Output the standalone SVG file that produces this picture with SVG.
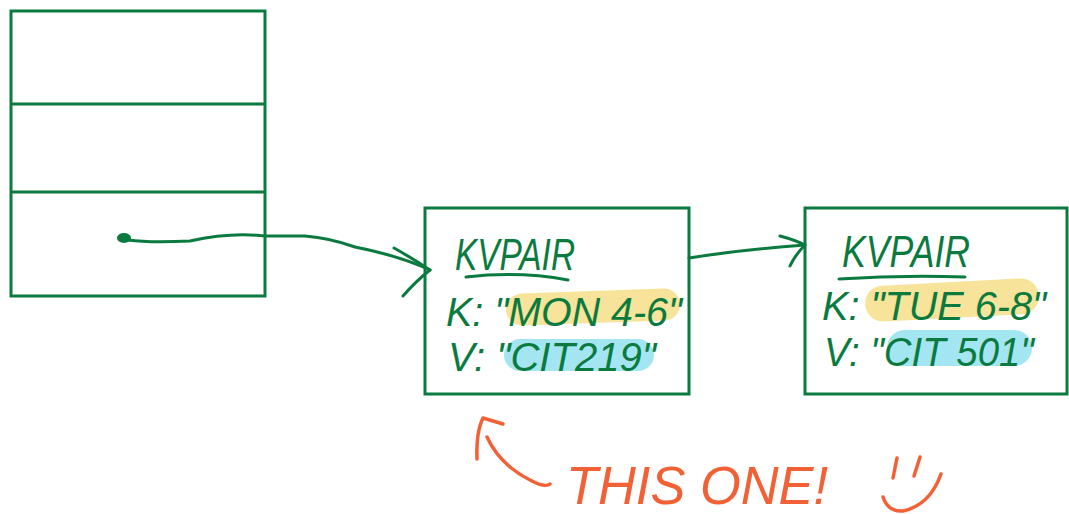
<svg xmlns="http://www.w3.org/2000/svg" width="1069" height="514" viewBox="0 0 1069 514">
<style>
.box{fill:none;stroke:#0b7a3e;stroke-width:3}
.ink{fill:none;stroke:#0b7a3e;stroke-width:3;stroke-linecap:round;stroke-linejoin:round}
.or{fill:none;stroke:#f26135;stroke-width:3.5;stroke-linecap:round;stroke-linejoin:round}
.t{font-family:"Liberation Sans",Arial,sans-serif;font-style:italic;fill:#0b7a3e}
.to{font-family:"Liberation Sans",Arial,sans-serif;font-style:italic;fill:#f26135}
.yl{fill:#f7e294;opacity:0.95}
.cy{fill:#a3e6f2}
</style>
<rect width="1069" height="514" fill="#ffffff"/>
<g id="table">
<rect class="box" x="11" y="11" width="254" height="285"/>
<line class="box" x1="11" y1="104" x2="265" y2="104"/>
<line class="box" x1="11" y1="192" x2="265" y2="192"/>
</g>
<g id="kvpair1">
<rect class="box" x="425" y="208" width="264" height="186"/>
<rect class="yl" x="506" y="291" width="174" height="32" rx="16" transform="rotate(-2 593 307)"/>
<rect class="cy" x="504" y="339" width="150" height="32" rx="16"/>
<text class="t" x="455" y="270" font-size="44" textLength="120" lengthAdjust="spacingAndGlyphs">KVPAIR</text>
<path class="ink" d="M466 277 Q520 271 568 280"/>
<text class="t" x="446" y="326" font-size="40" textLength="236" lengthAdjust="spacingAndGlyphs">K: "MON 4-6"</text>
<text class="t" x="448" y="371" font-size="40" textLength="208" lengthAdjust="spacingAndGlyphs">V: "CIT219"</text>
</g>
<g id="kvpair2">
<rect class="box" x="805" y="208" width="262" height="186"/>
<rect class="yl" x="865" y="282" width="174" height="36" rx="18" transform="rotate(-3 952 300)"/>
<rect class="cy" x="887" y="330" width="145" height="36" rx="18"/>
<text class="t" x="842" y="267" font-size="44" textLength="128" lengthAdjust="spacingAndGlyphs">KVPAIR</text>
<path class="ink" d="M839 279 Q900 275 965 277"/>
<text class="t" x="822" y="320" font-size="40" textLength="224" lengthAdjust="spacingAndGlyphs">K: "TUE 6-8"</text>
<text class="t" x="824" y="366" font-size="40" textLength="210" lengthAdjust="spacingAndGlyphs">V: "CIT 501"</text>
</g>
<g id="connectors">
<ellipse cx="124" cy="238" rx="7" ry="5" fill="#0b7a3e"/>
<path class="ink" d="M128 240 Q150 243 190 241 Q230 232 265 236 Q290 236 305 236 Q330 238 355 247 Q400 256 430 270"/>
<path class="ink" d="M394 248 Q412 258 430 270 Q415 282 403 296"/>
<path class="ink" d="M689 258 Q740 250 805 245"/>
<path class="ink" d="M780 236 Q795 240 805 245 Q795 255 790 266"/>
</g>
<g id="note">
<path class="or" d="M477 459 Q476 432 483 418 L503 424"/>
<path class="or" d="M487 437 Q500 465 530 480 Q545 488 550 484"/>
<text class="to" x="566" y="504" font-size="54" textLength="262" lengthAdjust="spacingAndGlyphs">THIS ONE!</text>
<path class="or" d="M897 458 L893 478"/>
<path class="or" d="M920 457 L914 476"/>
<path class="or" d="M883 497 Q888 512 903 511 Q930 505 941 474"/>
</g>
</svg>
